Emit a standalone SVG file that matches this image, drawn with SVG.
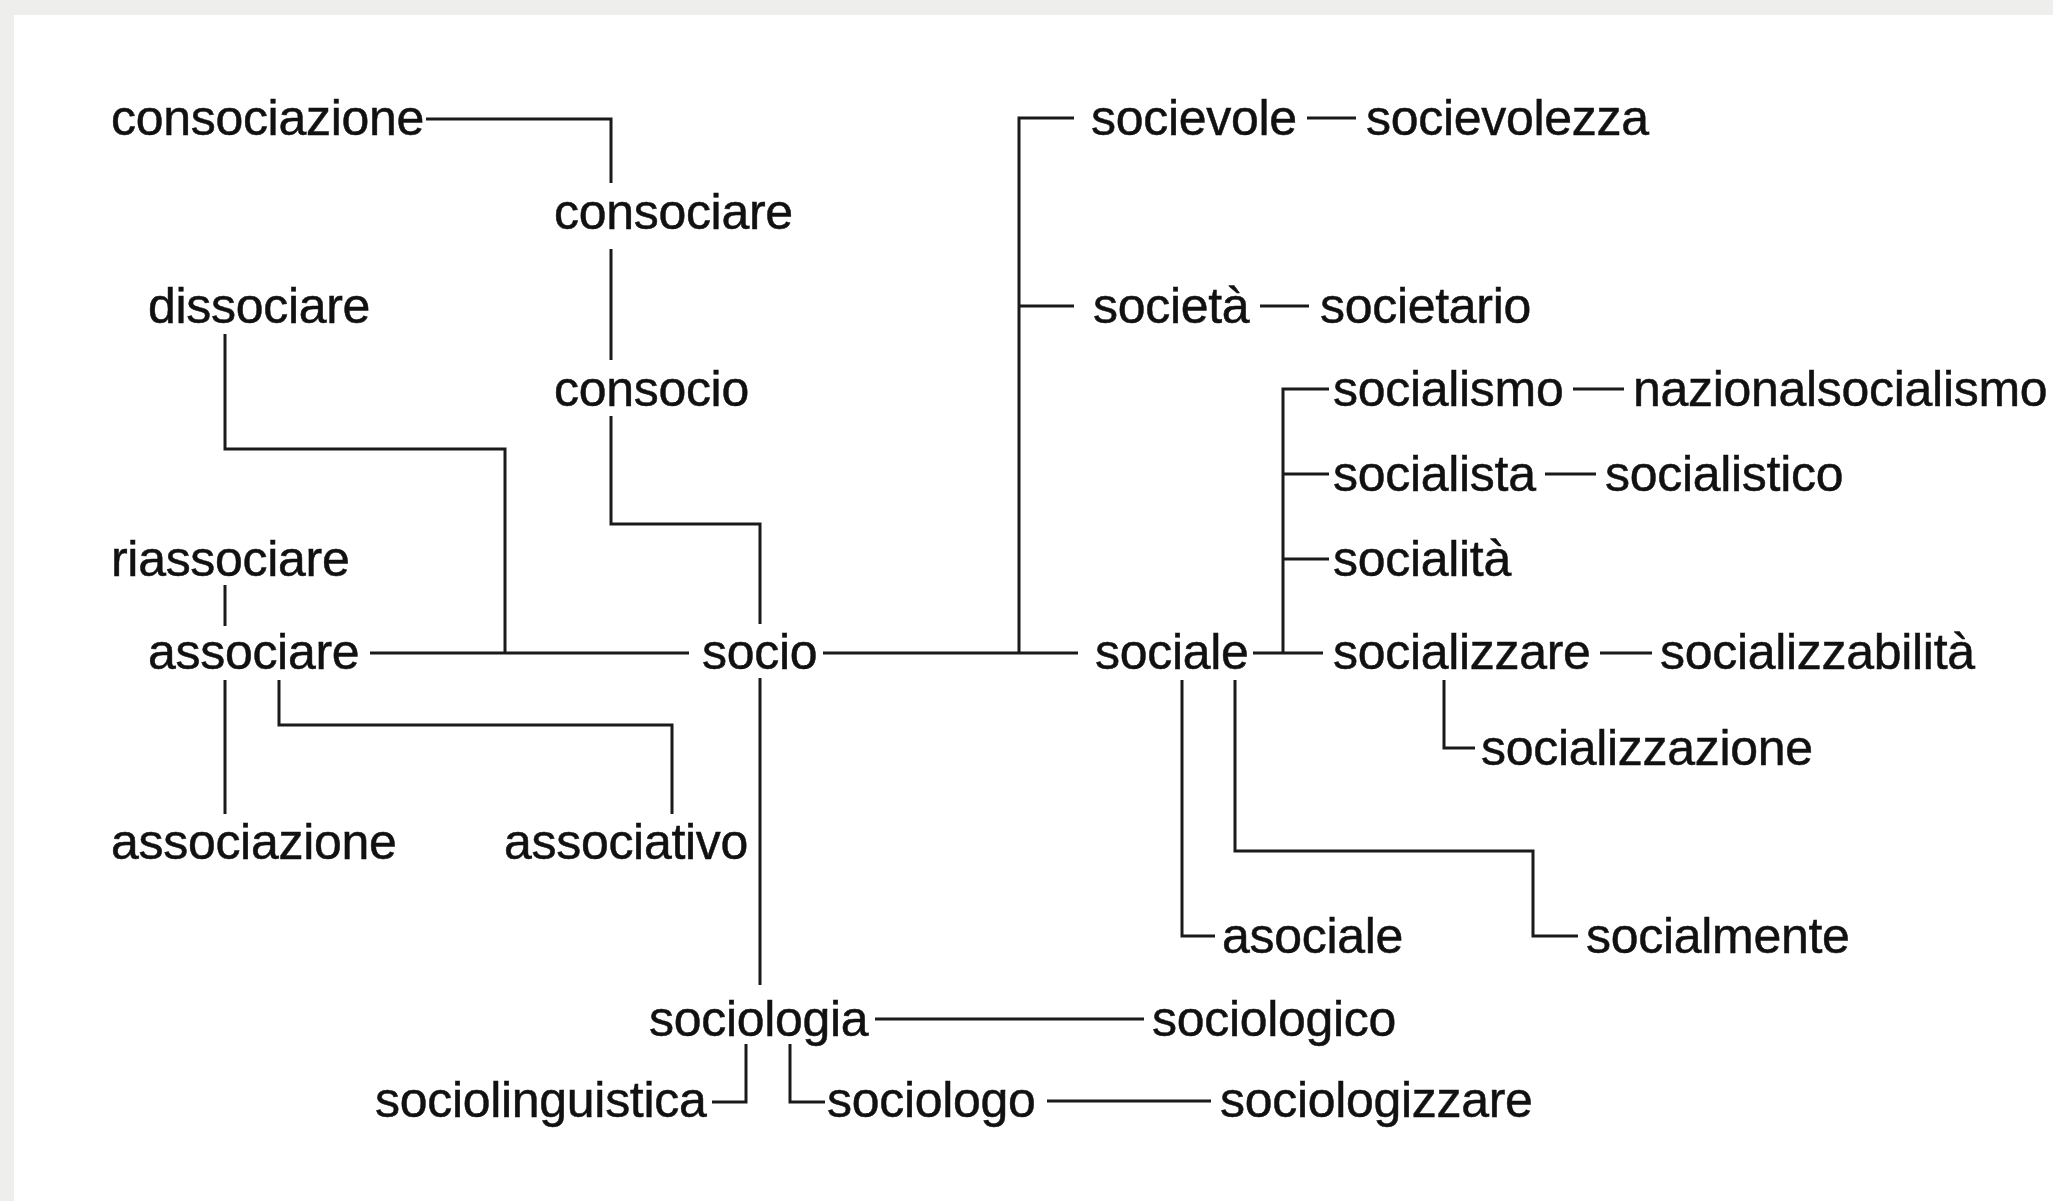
<svg xmlns="http://www.w3.org/2000/svg" width="2053" height="1201" viewBox="0 0 2053 1201">
<style>
.t{font-family:"Liberation Sans",Arial,Helvetica,sans-serif;font-size:50px;fill:#111;stroke:#111;stroke-width:0.5px;letter-spacing:-0.3px}
.c{fill:none;stroke:#1a1a1a;stroke-width:3;stroke-linejoin:miter;stroke-linecap:butt}
</style>
<rect x="0" y="0" width="2053" height="1201" fill="#eeeeec"/>
<rect x="14" y="15" width="2039" height="1186" fill="#ffffff"/>
<g id="connectors" class="c">
<path d="M426 119 H611 V183"/>
<path d="M611 249 V360"/>
<path d="M611 416 V524 H760 V624"/>
<path d="M225 334 V449 H505 V653"/>
<path d="M370 653 H689"/>
<path d="M225 585 V626"/>
<path d="M225 680 V814"/>
<path d="M279 680 V725 H672 V814"/>
<path d="M760 678 V985"/>
<path d="M823 653 H1078"/>
<path d="M1019 653 V118 H1074"/>
<path d="M1019 306 H1074"/>
<path d="M1253 653 H1323"/>
<path d="M1283 653 V389 H1329"/>
<path d="M1283 474 H1329"/>
<path d="M1283 559 H1329"/>
<path d="M1307 118 H1356"/>
<path d="M1260 306 H1309"/>
<path d="M1573 389 H1624"/>
<path d="M1545 474 H1596"/>
<path d="M1600 653 H1652"/>
<path d="M1444 680 V748 H1475"/>
<path d="M1182 680 V936 H1215"/>
<path d="M1235 680 V851 H1533 V936 H1578"/>
<path d="M875 1019 H1144"/>
<path d="M746 1044 V1102 H712"/>
<path d="M790 1044 V1102 H825"/>
<path d="M1047 1101 H1211"/>
</g>
<g id="consociazione"><text class="t" x="111" y="135">consociazione</text></g>
<g id="consociare"><text class="t" x="554" y="229">consociare</text></g>
<g id="dissociare"><text class="t" x="148" y="323">dissociare</text></g>
<g id="consocio"><text class="t" x="554" y="406">consocio</text></g>
<g id="riassociare"><text class="t" x="111" y="576">riassociare</text></g>
<g id="associare"><text class="t" x="148" y="669">associare</text></g>
<g id="socio"><text class="t" x="702" y="669">socio</text></g>
<g id="associazione"><text class="t" x="111" y="859">associazione</text></g>
<g id="associativo"><text class="t" x="504" y="859">associativo</text></g>
<g id="sociologia"><text class="t" x="649" y="1036">sociologia</text></g>
<g id="sociolinguistica"><text class="t" x="375" y="1117">sociolinguistica</text></g>
<g id="sociologo"><text class="t" x="827" y="1117">sociologo</text></g>
<g id="sociologizzare"><text class="t" x="1220" y="1117">sociologizzare</text></g>
<g id="sociologico"><text class="t" x="1152" y="1036">sociologico</text></g>
<g id="socievole"><text class="t" x="1091" y="135">socievole</text></g>
<g id="socievolezza"><text class="t" x="1366" y="135">socievolezza</text></g>
<g id="societa"><text class="t" x="1093" y="323">società</text></g>
<g id="societario"><text class="t" x="1320" y="323">societario</text></g>
<g id="socialismo"><text class="t" x="1333" y="406">socialismo</text></g>
<g id="nazionalsocialismo"><text class="t" x="1633" y="406">nazionalsocialismo</text></g>
<g id="socialista"><text class="t" x="1333" y="491">socialista</text></g>
<g id="socialistico"><text class="t" x="1605" y="491">socialistico</text></g>
<g id="socialita"><text class="t" x="1333" y="576">socialità</text></g>
<g id="sociale"><text class="t" x="1095" y="669">sociale</text></g>
<g id="socializzare"><text class="t" x="1333" y="669">socializzare</text></g>
<g id="socializzabilita"><text class="t" x="1660" y="669">socializzabilità</text></g>
<g id="socializzazione"><text class="t" x="1481" y="765">socializzazione</text></g>
<g id="asociale"><text class="t" x="1222" y="953">asociale</text></g>
<g id="socialmente"><text class="t" x="1586" y="953">socialmente</text></g>
</svg>
